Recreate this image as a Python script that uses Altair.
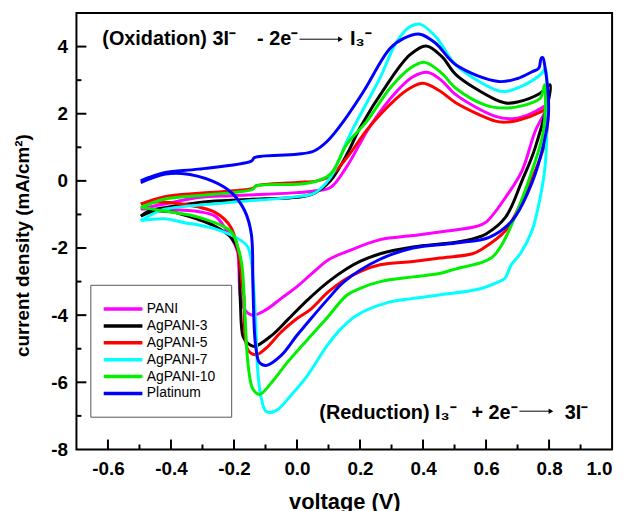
import altair as alt
import pandas as pd

FONT = "Liberation Sans"

SERIES = ["PANI", "AgPANI-3", "AgPANI-5", "AgPANI-7", "AgPANI-10", "Platinum"]
COLORS = ["#FF00FF", "#000000", "#FF0000", "#00FFFF", "#00F000", "#0000FF"]

PANI_V = [-0.496, -0.46, -0.42, -0.31, -0.21, -0.10, 0.0, 0.054, 0.106, 0.159, 0.232, 0.316, 0.368, 0.416, 0.46, 0.505,
          0.63, 0.683, 0.72, 0.767, 0.796, 0.756, 0.714, 0.662, 0.60, 0.568, 0.47, 0.368, 0.264, 0.16, 0.10, 0.045,
          0.0, -0.05, -0.10, -0.14, -0.165, -0.18, -0.185, -0.19, -0.23, -0.26, -0.31, -0.42, -0.496]
PANI_J = [-0.84, -0.76, -0.69, -0.49, -0.44, -0.40, -0.35, -0.30, -0.20, 0.44, 1.63, 2.66, 3.10, 3.23, 2.98, 2.56,
          1.92, 1.85, 1.92, 2.12, 2.27, 1.48, 0.30, -0.49, -1.23, -1.36, -1.50, -1.63, -1.75, -2.10, -2.35, -2.78,
          -3.15, -3.50, -3.85, -4.00, -3.85, -3.40, -2.50, -2.07, -1.38, -1.05, -0.92, -0.85, -0.84]

AG3_V = [-0.496, -0.47, -0.42, -0.31, -0.21, -0.10, 0.0, 0.054, 0.106, 0.159, 0.20, 0.285, 0.358, 0.41, 0.46, 0.505,
         0.63, 0.662, 0.70, 0.772, 0.803, 0.756, 0.714, 0.662, 0.60, 0.568, 0.505, 0.368, 0.264, 0.20, 0.159, 0.10,
         0.033, -0.03, -0.08, -0.135, -0.155, -0.171, -0.18, -0.187, -0.21, -0.26, -0.313, -0.40, -0.46, -0.496]
AG3_J = [-1.05, -0.90, -0.80, -0.64, -0.58, -0.53, -0.49, -0.37, 0.0, 0.80, 1.58, 2.86, 3.75, 4.02, 3.70, 3.16,
         2.42, 2.32, 2.35, 2.61, 2.86, 0.99, 0.0, -1.08, -1.58, -1.70, -1.83, -1.97, -2.17, -2.40, -2.61, -3.00,
         -3.55, -4.14, -4.60, -4.93, -4.85, -4.64, -3.55, -2.07, -1.68, -1.35, -1.15, -0.92, -0.92, -1.05]

AG5_V = [-0.496, -0.42, -0.31, -0.21, -0.14, -0.13, 0.0, 0.064, 0.106, 0.159, 0.227, 0.316, 0.358, 0.40, 0.45, 0.505,
         0.63, 0.662, 0.70, 0.777, 0.793, 0.788, 0.756, 0.714, 0.662, 0.589, 0.557, 0.452, 0.368, 0.264, 0.20, 0.15,
         0.10, 0.04, 0.0, -0.05, -0.10, -0.13, -0.155, -0.165, -0.168, -0.175, -0.187, -0.21, -0.26, -0.365, -0.47,
         -0.496]
AG5_J = [-0.69, -0.47, -0.37, -0.30, -0.22, -0.15, -0.05, 0.0, 0.15, 0.70, 1.58, 2.46, 2.76, 2.91, 2.70, 2.32,
         1.78, 1.75, 1.80, 2.07, 2.17, 1.18, 0.30, -0.59, -1.48, -2.02, -2.17, -2.30, -2.40, -2.50, -2.70, -2.95,
         -3.30, -3.85, -4.10, -4.50, -5.00, -5.18, -5.05, -4.60, -3.50, -3.00, -2.07, -1.38, -0.94, -0.69, -0.64,
         -0.69]

AG7_V = [-0.496, -0.45, -0.418, -0.208, 0.0, 0.054, 0.106, 0.159, 0.19, 0.263, 0.316, 0.358, 0.39, 0.44, 0.505,
         0.63, 0.662, 0.72, 0.777, 0.788, 0.793, 0.788, 0.772, 0.746, 0.71, 0.68, 0.66, 0.641, 0.578, 0.45, 0.37,
         0.29, 0.19, 0.14, 0.096, 0.033, -0.02, -0.06, -0.085, -0.10, -0.115, -0.125, -0.13, -0.135, -0.145, -0.156,
         -0.177, -0.26, -0.365, -0.42, -0.496]
AG7_J = [-1.18, -0.95, -0.84, -0.64, -0.47, -0.37, 0.10, 1.20, 1.78, 3.06, 4.14, 4.59, 4.67, 4.30, 3.45,
         2.71, 2.66, 2.85, 3.20, 3.35, 1.97, 0.49, -0.49, -1.48, -2.15, -2.50, -2.90, -3.00, -3.22, -3.40, -3.50,
         -3.62, -4.00, -4.40, -4.90, -5.80, -6.40, -6.80, -6.90, -6.85, -6.40, -5.60, -4.50, -3.55, -2.37, -1.97,
         -1.78, -1.43, -1.23, -1.13, -1.18]

AG10_V = [-0.496, -0.418, -0.313, -0.208, -0.14, -0.13, 0.0, 0.054, 0.106, 0.159, 0.222, 0.295, 0.358, 0.405, 0.46,
          0.505, 0.60, 0.66, 0.72, 0.772, 0.786, 0.782, 0.746, 0.704, 0.652, 0.62, 0.589, 0.505, 0.452, 0.368, 0.264,
          0.20, 0.159, 0.09, 0.033, -0.03, -0.08, -0.119, -0.14, -0.155, -0.165, -0.175, -0.19, -0.21, -0.313, -0.42,
          -0.496]
AG10_J = [-0.79, -0.54, -0.44, -0.35, -0.25, -0.15, -0.10, -0.03, 0.20, 1.10, 1.78, 2.76, 3.35, 3.53, 3.20,
          2.75, 2.25, 2.17, 2.25, 2.46, 2.86, 1.48, 0.30, -0.79, -1.87, -2.27, -2.42, -2.62, -2.76, -2.86, -3.00,
          -3.20, -3.40, -4.14, -4.73, -5.40, -6.00, -6.36, -6.20, -5.50, -4.00, -2.50, -1.90, -1.50, -1.08, -0.90,
          -0.79]

PT_V = [-0.496, -0.47, -0.418, -0.313, -0.145, -0.135, 0.0, 0.054, 0.096, 0.148, 0.211, 0.295, 0.34, 0.39, 0.44,
        0.505, 0.64, 0.70, 0.746, 0.767, 0.775, 0.78, 0.786, 0.798, 0.772, 0.735, 0.683, 0.61, 0.505, 0.368, 0.26,
        0.15, 0.10, 0.04, 0.0, -0.05, -0.098, -0.12, -0.13, -0.135, -0.14, -0.145, -0.166, -0.208, -0.27, -0.365,
        -0.418, -0.496]
PT_J = [0.0, 0.10, 0.25, 0.35, 0.59, 0.69, 0.79, 0.89, 1.18, 1.78, 2.66, 3.94, 4.25, 4.37, 4.10,
        3.45, 2.96, 3.05, 3.25, 3.35, 3.65, 3.67, 3.45, 1.97, 0.69, -0.30, -1.18, -1.68, -1.85, -2.00, -2.35,
        -3.00, -3.50, -4.15, -4.60, -5.20, -5.50, -5.40, -5.00, -4.50, -3.06, -1.58, -0.89, -0.35, 0.00, 0.22,
        0.20, -0.05]

X_LABEL_TICKS = [-0.6, -0.4, -0.2, 0.0, 0.2, 0.4, 0.6, 0.8, 1.0]
X_MAJOR_TICKS = [-0.6, -0.4, -0.2, 0.0, 0.2, 0.4, 0.6, 0.8]
X_MINOR_TICKS = [-0.5, -0.3, -0.1, 0.1, 0.3, 0.5, 0.7, 0.9]
Y_LABEL_TICKS = [-8, -6, -4, -2, 0, 2, 4]
Y_MAJOR_TICKS = [-6, -4, -2, 0, 2, 4]
Y_MINOR_TICKS = [-7, -5, -3, -1, 1, 3]

# annotation pieces (left-anchored and right-anchored), anchor voltage, anchor current
ANN_LEFT_TEXT = ["(Oxidation) 3I\u207b", "I\u2083\u207b", "(Reduction) I\u2083\u207b", "3I\u207b"]
ANN_LEFT_V = [-0.618, 0.168, 0.071, 0.850]
ANN_LEFT_J = [4.05, 4.05, -7.10, -7.10]
ANN_RIGHT_TEXT = ["-  2e\u207b", "+ 2e\u207b"]
ANN_RIGHT_V = [0.004, 0.700]
ANN_RIGHT_J = [4.05, -7.10]
ARROW_V1 = [0.008, 0.706]
ARROW_V2 = [0.138, 0.806]
ARROW_J = [4.22, -6.86]

rows = []
for name, vs, js in zip(SERIES, [PANI_V, AG3_V, AG5_V, AG7_V, AG10_V, PT_V],
                        [PANI_J, AG3_J, AG5_J, AG7_J, AG10_J, PT_J]):
    for i, (v, j) in enumerate(zip(vs, js)):
        rows.append({"series": name, "v": v, "j": j, "i": i})
df = pd.DataFrame(rows)
ann_l = pd.DataFrame({"t": ANN_LEFT_TEXT, "v": ANN_LEFT_V, "j": ANN_LEFT_J})
ann_r = pd.DataFrame({"t": ANN_RIGHT_TEXT, "v": ANN_RIGHT_V, "j": ANN_RIGHT_J})
arrows = pd.DataFrame({"v": ARROW_V1, "v2": ARROW_V2, "j": ARROW_J})

xscale = alt.Scale(domain=[-0.7, 1.0], nice=False, zero=False)
yscale = alt.Scale(domain=[-8, 5], nice=False, zero=False)

lab_expr = "replace(format(datum.value, '.1f'), '\u2212', '-')"
lab_expr_y = "replace(format(datum.value, 'd'), '\u2212', '-')"

lines = alt.Chart(df).mark_line(strokeWidth=3, interpolate="catmull-rom").encode(
    x=alt.X("v:Q", scale=xscale, axis=alt.Axis(
        orient="bottom", values=X_LABEL_TICKS, labelExpr=lab_expr, tickSize=0, domain=False, grid=False,
        labelPadding=10, labelFont=FONT, labelFontSize=19, labelFontWeight="bold", labelColor="black",
        title="voltage (V)", titleFont=FONT, titleFontSize=22, titleFontWeight="bold", titleColor="black",
        titlePadding=14)),
    y=alt.Y("j:Q", scale=yscale, axis=alt.Axis(
        orient="left", values=Y_LABEL_TICKS, labelExpr=lab_expr_y, tickSize=0, domain=False, grid=False,
        labelPadding=9, labelFont=FONT, labelFontSize=19, labelFontWeight="bold", labelColor="black",
        title="current density (mA/cm\u00b2)", titleFont=FONT, titleFontSize=19, titleFontWeight="bold",
        titleColor="black", titlePadding=18, titleY=234)),
    color=alt.Color("series:N", scale=alt.Scale(domain=SERIES, range=COLORS), sort=SERIES,
                    legend=alt.Legend(
                        title=None, orient="none", legendX=14, legendY=274, direction="vertical",
                        symbolType="M-3,0H3", symbolSize=169, symbolStrokeWidth=3.5, symbolOffset=8.5,
                        labelOffset=15.5, labelFont=FONT, labelFontSize=14, labelColor="black",
                        padding=16, strokeColor="#555555", fillColor="white", rowPadding=1)),
    order=alt.Order("i:Q"),
)


def xticks(vals, length):
    return alt.Chart(pd.DataFrame({"v": vals})).mark_rule(color="black", strokeWidth=2).encode(
        x=alt.X("v:Q", scale=xscale, axis=None),
        y=alt.value(440), y2=alt.value(440 - length))


def yticks(vals, length):
    return alt.Chart(pd.DataFrame({"j": vals})).mark_rule(color="black", strokeWidth=2).encode(
        y=alt.Y("j:Q", scale=yscale, axis=None),
        x=alt.value(0), x2=alt.value(length))


def texts(frame, align):
    return alt.Chart(frame).mark_text(align=align, baseline="alphabetic", font=FONT, fontSize=20,
                                      fontWeight="bold", color="black").encode(
        x=alt.X("v:Q", scale=xscale, axis=None),
        y=alt.Y("j:Q", scale=yscale, axis=None),
        text="t:N",
    )


arrow_lines = alt.Chart(arrows).mark_rule(color="black", strokeWidth=1).encode(
    x=alt.X("v:Q", scale=xscale, axis=None),
    x2="v2:Q",
    y=alt.Y("j:Q", scale=yscale, axis=None),
)
arrow_heads = alt.Chart(arrows).mark_point(shape="triangle-right", filled=True, color="black", size=30,
                                           opacity=1).encode(
    x=alt.X("v2:Q", scale=xscale, axis=None),
    y=alt.Y("j:Q", scale=yscale, axis=None),
)

chart = alt.layer(
    lines,
    xticks(X_MAJOR_TICKS, 10), xticks(X_MINOR_TICKS, 5),
    yticks(Y_MAJOR_TICKS, 10), yticks(Y_MINOR_TICKS, 5),
    texts(ann_l, "left"), texts(ann_r, "right"), arrow_lines, arrow_heads,
).resolve_axis(x="independent", y="independent").properties(
    width=540, height=440,
    autosize=alt.AutoSizeParams(type="none"),
    padding={"left": 69, "top": 3, "right": 10, "bottom": 60},
).configure(background="white").configure_view(stroke="black", strokeWidth=2)

chart.save("out.html", embed_options={"renderer": "svg", "actions": False})
